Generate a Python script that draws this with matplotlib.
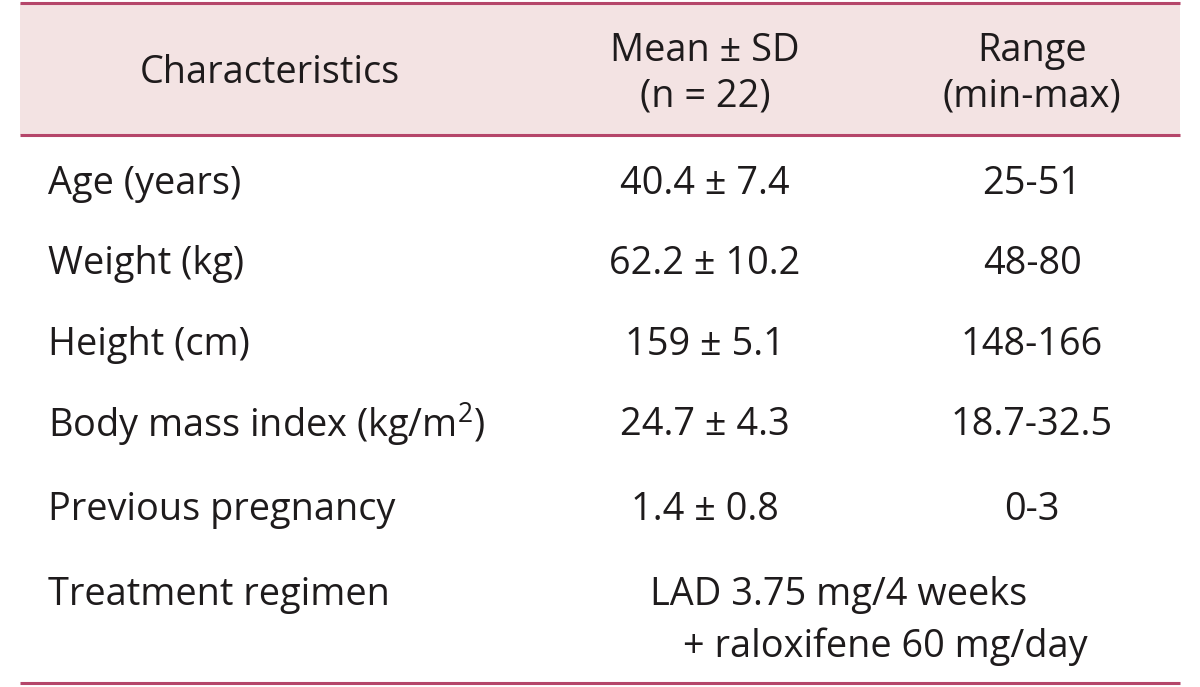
import matplotlib.pyplot as plt
from matplotlib.patches import Rectangle

plt.rcParams['font.family'] = ['Open Sans', 'DejaVu Sans']
plt.rcParams['mathtext.fontset'] = 'custom'
plt.rcParams['mathtext.rm'] = 'Open Sans'

# 表のデータ
header = ["Characteristics", "Mean ± SD\n(n = 22)", "Range\n(min-max)"]
characteristics = ["Age (years)", "Weight (kg)", "Height (cm)",
                   "Body mass index (kg/m$^\\mathrm{2}$)", "Previous pregnancy"]
mean_sd = ["40.4 ± 7.4", "62.2 ± 10.2", "159 ± 5.1", "24.7 ± 4.3", "1.4 ± 0.8"]
ranges = ["25-51", "48-80", "148-166", "18.7-32.5", "0-3"]
regimen_label = "Treatment regimen"
regimen = ["LAD 3.75 mg/4 weeks", "+ raloxifene 60 mg/day"]

line_color = "#b5466a"
head_bg = "#f3e3e3"
txt_color = "#1e1b1c"
fs = 27.3

fig = plt.figure(figsize=(12, 6.87), dpi=100)
ax = fig.add_axes([0, 0, 1, 1])
ax.set_xlim(0, 1200)
ax.set_ylim(687, 0)
ax.axis("off")

# ヘッダー背景と罫線
ax.add_patch(Rectangle((20, 3), 1160, 132, facecolor=head_bg, edgecolor="none"))
for y in [3, 135, 683]:
    ax.plot([20, 1180], [y, y], color=line_color, lw=2.2, solid_capstyle="butt")

col1_x = 48
col2_x = 705
col3_x = 1032

ax.text(270, 73, header[0], fontsize=fs, ha="center", va="center", color=txt_color)
ax.text(col2_x, 74, header[1], fontsize=fs, ha="center", va="center", color=txt_color,
        linespacing=1.25)
ax.text(col3_x, 74, header[2], fontsize=fs, ha="center", va="center", color=txt_color,
        linespacing=1.25)

row_y = [184, 264, 345, 425, 510]
for y, c, m, r in zip(row_y, characteristics, mean_sd, ranges):
    ax.text(col1_x, y, c, fontsize=fs, ha="left", va="center", color=txt_color)
    ax.text(col2_x, y, m, fontsize=fs, ha="center", va="center", color=txt_color)
    ax.text(col3_x, y, r, fontsize=fs, ha="center", va="center", color=txt_color)

ax.text(col1_x, 595, regimen_label, fontsize=fs, ha="left", va="center", color=txt_color)
ax.text(650, 595, regimen[0], fontsize=fs, ha="left", va="center", color=txt_color)
ax.text(683, 647, regimen[1], fontsize=fs, ha="left", va="center", color=txt_color)

fig.savefig("out.png", dpi=100, facecolor="white")
